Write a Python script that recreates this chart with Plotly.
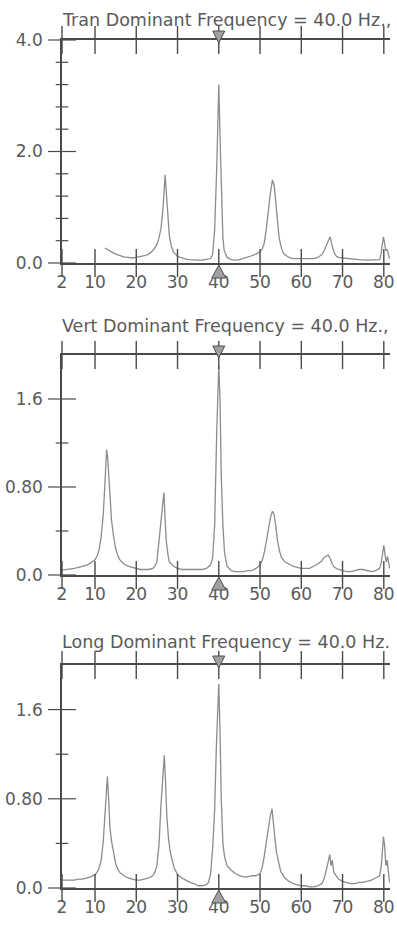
import plotly.graph_objects as go

# ---------------- data ----------------
x_tick_vals = [2, 10, 20, 30, 40, 50, 60, 70, 80]
x_tick_text = ["2", "10", "20", "30", "40", "50", "60", "70", "80"]

titles = [
    "Tran Dominant Frequency = 40.0 Hz.,",
    "Vert Dominant Frequency = 40.0 Hz.,",
    "Long Dominant Frequency = 40.0 Hz.",
]
dominant_freq = [40.0, 40.0, 40.0]

freq_tran = [12.4, 13, 14, 15, 16, 17, 18, 19, 20, 21, 22, 23, 24, 25, 25.5, 26, 26.5, 27, 27.3, 27.6,
             28, 28.5, 29, 30, 31, 32, 33, 34, 35, 36, 37, 38, 38.5, 39, 39.5, 40, 40.4, 40.7, 41, 41.3,
             42, 43, 44, 45, 46, 47, 48, 49, 50, 50.5, 51, 51.5, 52, 52.5, 53, 53.4, 53.8, 54.2, 54.6,
             55, 55.5, 56, 57, 58, 59, 60, 61, 62, 63, 64, 65, 65.5, 66, 66.5, 67, 67.5, 68, 68.5, 69,
             70, 71, 72, 74, 76, 78, 79, 79.3, 79.6, 79.9, 80.2, 80.5, 80.8, 81.1, 81.4]
amp_tran = [0.27, 0.24, 0.2, 0.16, 0.13, 0.11, 0.1, 0.09, 0.1, 0.11, 0.13, 0.16, 0.22, 0.33, 0.45, 0.62, 1.0, 1.58, 1.2, 0.85,
            0.5, 0.3, 0.2, 0.12, 0.09, 0.07, 0.06, 0.05, 0.05, 0.05, 0.06, 0.08, 0.15, 0.6, 1.7, 3.2, 2.0, 0.95, 0.45, 0.23,
            0.1, 0.06, 0.05, 0.06, 0.08, 0.1, 0.13, 0.16, 0.2, 0.25, 0.35, 0.6, 0.95, 1.25, 1.49, 1.4, 1.1, 0.75, 0.47,
            0.32, 0.2, 0.15, 0.1, 0.08, 0.08, 0.07, 0.07, 0.07, 0.08, 0.1, 0.15, 0.22, 0.3, 0.4, 0.47, 0.3, 0.18, 0.12, 0.1,
            0.09, 0.08, 0.08, 0.06, 0.05, 0.05, 0.06, 0.15, 0.3, 0.47, 0.35, 0.22, 0.25, 0.15, 0.08]

freq_vert = [2, 3, 4, 5, 6, 7, 8, 9, 10, 10.5, 11, 11.5, 12, 12.5, 12.8, 13.1, 13.4, 13.7, 14, 14.5,
             15, 15.5, 16, 17, 18, 19, 20, 21, 22, 23, 24, 24.5, 25, 25.5, 26, 26.4, 26.7, 27, 27.3, 27.7,
             28, 29, 30, 31, 32, 34, 36, 37, 38, 38.5, 39, 39.5, 39.8, 40, 40.3, 40.6, 41, 41.4,
             42, 43, 44, 45, 46, 47, 48, 49, 50, 50.5, 51, 51.5, 52, 52.5, 53, 53.4, 53.8, 54.2, 54.7, 55.2,
             56, 57, 58, 59, 60, 61, 62, 63, 64, 65, 65.5, 66, 66.5, 67, 67.5, 68, 69, 70, 71, 72, 73, 74,
             75, 76, 77, 78, 79, 79.4, 79.7, 80, 80.3, 80.6, 80.9, 81.2, 81.4]
amp_vert = [0.045, 0.05, 0.05, 0.06, 0.07, 0.08, 0.09, 0.11, 0.14, 0.17, 0.23, 0.35, 0.55, 0.9, 1.14, 1.05, 0.85, 0.65, 0.5, 0.35,
            0.24, 0.18, 0.14, 0.1, 0.08, 0.07, 0.06, 0.05, 0.05, 0.05, 0.06, 0.08, 0.12, 0.3, 0.45, 0.6, 0.75, 0.5, 0.3, 0.18,
            0.12, 0.08, 0.06, 0.05, 0.05, 0.05, 0.05, 0.06, 0.09, 0.15, 0.45, 1.3, 1.7, 1.9, 1.6, 0.9, 0.45, 0.2,
            0.08, 0.04, 0.03, 0.03, 0.03, 0.04, 0.04, 0.06, 0.09, 0.13, 0.2, 0.3, 0.42, 0.52, 0.58, 0.55, 0.45, 0.32, 0.22, 0.16,
            0.12, 0.1, 0.08, 0.07, 0.06, 0.06, 0.06, 0.08, 0.1, 0.13, 0.16, 0.17, 0.18, 0.15, 0.1, 0.07, 0.05, 0.04, 0.03, 0.03, 0.04, 0.05,
            0.05, 0.04, 0.03, 0.04, 0.06, 0.12, 0.22, 0.27, 0.18, 0.12, 0.17, 0.1, 0.06]

freq_long = [2, 3, 4, 5, 6, 7, 8, 9, 10, 10.5, 11, 11.5, 12, 12.4, 12.7, 13, 13.3, 13.6, 14, 14.5,
             15, 15.5, 16, 17, 18, 19, 20, 21, 22, 23, 24, 24.5, 25, 25.5, 26, 26.4, 26.8, 27.1, 27.4, 27.8,
             28.2, 28.7, 29.2, 30, 31, 32, 33, 34, 35, 36, 37, 37.5, 38, 38.5, 39, 39.4, 39.7, 40, 40.3, 40.6,
             41, 41.4, 42, 43, 44, 45, 46, 47, 48, 49, 50, 50.5, 51, 51.5, 52, 52.5, 52.9, 53.2, 53.6, 54,
             54.5, 55, 56, 57, 58, 59, 60, 61, 62, 63, 64, 65, 65.5, 66, 66.5, 66.9, 67.2, 67.5, 67.9, 68.5,
             69, 70, 71, 72, 73, 74, 75, 76, 77, 78, 79, 79.4, 79.7, 79.9, 80.2, 80.5, 80.8, 81.1, 81.4]
amp_long = [0.07, 0.07, 0.07, 0.07, 0.08, 0.08, 0.09, 0.1, 0.12, 0.14, 0.18, 0.25, 0.42, 0.7, 0.88, 1.0, 0.8, 0.55, 0.42, 0.3,
            0.22, 0.17, 0.14, 0.11, 0.09, 0.08, 0.07, 0.07, 0.08, 0.09, 0.11, 0.14, 0.2, 0.38, 0.75, 1.0, 1.19, 0.95, 0.65, 0.45,
            0.33, 0.25, 0.18, 0.12, 0.09, 0.07, 0.05, 0.04, 0.02, 0.02, 0.03, 0.05, 0.12, 0.35, 0.7, 1.25, 1.6, 1.83, 1.4, 0.8,
            0.4, 0.28, 0.2, 0.16, 0.13, 0.11, 0.1, 0.1, 0.11, 0.11, 0.13, 0.18, 0.28, 0.42, 0.55, 0.65, 0.71, 0.62, 0.45, 0.32,
            0.22, 0.15, 0.09, 0.06, 0.04, 0.03, 0.02, 0.02, 0.01, 0.01, 0.02, 0.04, 0.08, 0.15, 0.25, 0.3, 0.2, 0.25, 0.14, 0.1,
            0.08, 0.06, 0.05, 0.04, 0.04, 0.05, 0.05, 0.06, 0.07, 0.09, 0.11, 0.2, 0.35, 0.46, 0.38, 0.2, 0.25, 0.12, 0.05]

y_top = [4.0, 2.0, 2.0]
y_label_vals = [[0.0, 2.0, 4.0], [0.0, 0.8, 1.6], [0.0, 0.8, 1.6]]
y_label_text = [["0.0", "2.0", "4.0"], ["0.0", "0.80", "1.6"], ["0.0", "0.80", "1.6"]]
y_minor_vals = [[0.4, 0.8, 1.2, 1.6, 2.4, 2.8, 3.2, 3.6], [0.4, 1.2], [0.4, 1.2]]

freqs = [freq_tran, freq_vert, freq_long]
amps = [amp_tran, amp_vert, amp_long]

# ---------------- layout config ----------------
W, H = 397, 930
panel_px = [(40, 263), (355, 575), (665, 888)]   # (top, bottom) pixel rows of each plot area
title_px = [20, 326, 642]
x_dom = [62 / W, 390 / W]
x_range = [2, 81.5]

# marker glyphs (pixel offsets relative to their anchor point, +y = up)
DOWN_TRI = "M -6,9 L 6,9 L 0,-3 Z"      # sits on the top axis line
UP_TRI = "M -7,-15 L 7,-15 L 0,-2 Z"    # hangs just below the zero line

FONT = "DejaVu Sans"
TXT = "#5a5a5a"
AX = "#4a4a4a"
LINE = "#8c8c8c"

fig = go.Figure()
layout = dict(
    width=W, height=H, autosize=False,
    margin=dict(l=0, r=0, t=0, b=0, pad=0, autoexpand=False),
    paper_bgcolor="white", plot_bgcolor="white",
    showlegend=False,
    font=dict(family=FONT, size=17, color=TXT),
    annotations=[],
    shapes=[],
)

for i in range(3):
    n = "" if i == 0 else str(i + 1)
    xa, ya = "x" + n, "y" + n
    top, bot = panel_px[i]
    ymax = y_top[i]

    layout["xaxis" + n] = dict(
        domain=x_dom, range=x_range, anchor=ya, automargin=False,
        showline=True, linecolor=AX, linewidth=1.5, mirror=True,
        showgrid=False, zeroline=False,
        tickmode="array", tickvals=x_tick_vals, ticktext=x_tick_text,
        ticks="outside", ticklen=3, tickcolor="rgba(0,0,0,0)",
        tickfont=dict(family=FONT, size=17, color=TXT),
    )
    layout["yaxis" + n] = dict(
        domain=[1 - bot / H, 1 - top / H], range=[0, ymax], anchor=xa, automargin=False,
        showline=True, linecolor=AX, linewidth=1.5, mirror=False,
        showgrid=False, zeroline=False,
        tickmode="array", tickvals=y_label_vals[i], ticktext=y_label_text[i],
        ticks="outside", ticklen=14, tickcolor="rgba(0,0,0,0)",
        tickfont=dict(family=FONT, size=17, color=TXT),
    )

    # spectrum
    fig.add_trace(go.Scatter(
        x=freqs[i], y=amps[i], xaxis=xa, yaxis=ya, mode="lines",
        line=dict(color=LINE, width=1.3), hoverinfo="skip",
    ))

    # crossing tick marks on bottom and top frequency axes
    fig.add_trace(go.Scatter(
        x=x_tick_vals + x_tick_vals,
        y=[0] * len(x_tick_vals) + [ymax] * len(x_tick_vals),
        xaxis=xa, yaxis=ya, mode="markers", cliponaxis=False, hoverinfo="skip",
        marker=dict(symbol="line-ns", size=20, color=AX, line=dict(width=1.4, color=AX)),
    ))
    # crossing tick marks on the amplitude axis
    fig.add_trace(go.Scatter(
        x=[x_range[0]] * len(y_minor_vals[i]), y=y_minor_vals[i],
        xaxis=xa, yaxis=ya, mode="markers", cliponaxis=False, hoverinfo="skip",
        marker=dict(symbol="line-ew", size=9, color=AX, line=dict(width=1.2, color=AX)),
    ))
    fig.add_trace(go.Scatter(
        x=[x_range[0]] * len(y_label_vals[i]), y=y_label_vals[i],
        xaxis=xa, yaxis=ya, mode="markers", cliponaxis=False, hoverinfo="skip",
        marker=dict(symbol="line-ew", size=20, color=AX, line=dict(width=1.2, color=AX)),
    ))

    # dominant frequency markers (top and bottom), anchored at the dominant frequency
    for anchor_dom, path in ((1, DOWN_TRI), (0, UP_TRI)):
        layout["shapes"].append(dict(
            type="path", xref=xa, yref=ya + " domain",
            xsizemode="pixel", ysizemode="pixel",
            xanchor=dominant_freq[i], yanchor=anchor_dom,
            path=path, fillcolor="#a0a0a0",
            line=dict(color="#505050", width=1), layer="above",
        ))

    # title
    layout["annotations"].append(dict(
        xref="paper", yref="paper", x=x_dom[0] - 2 / W, y=1 - title_px[i] / H,
        xanchor="left", yanchor="middle", text=titles[i], showarrow=False,
        font=dict(family=FONT, size=17.5, color=TXT),
    ))

fig.update_layout(**layout)
fig.write_html(
    "out.html",
    config={"displayModeBar": False},
    post_script="document.body.style.margin='0';document.body.style.overflow='hidden';",
)
